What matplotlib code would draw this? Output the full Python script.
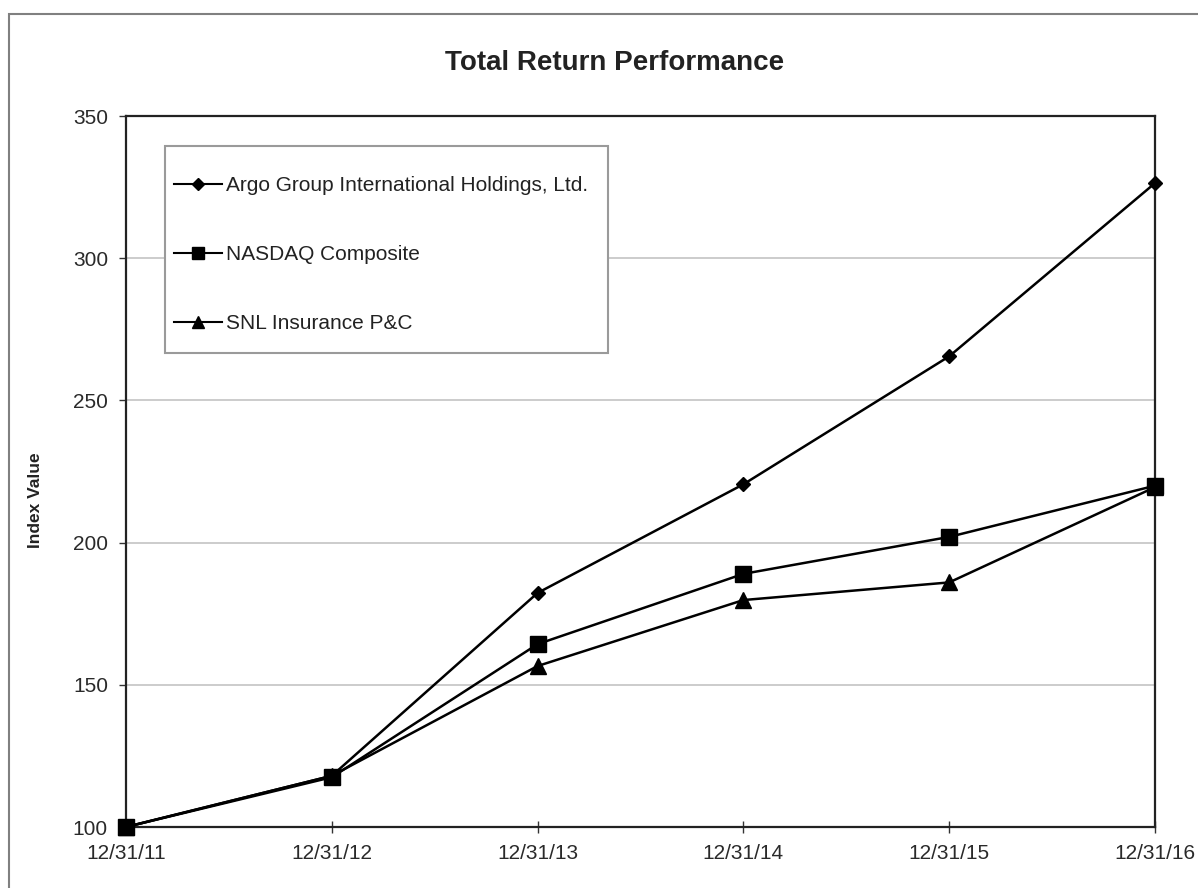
import matplotlib
matplotlib.use("Agg")
import matplotlib.pyplot as plt
from matplotlib.patches import Rectangle

plt.rcParams['font.family'] = ['Liberation Sans', 'DejaVu Sans']

dates = ["12/31/11", "12/31/12", "12/31/13", "12/31/14", "12/31/15", "12/31/16"]
argo = [100, 118, 182.3, 220.5, 265.5, 326.4]
nasdaq = [100, 117.5, 164.3, 189, 202, 220]
snl = [100, 118, 156.6, 179.8, 186, 219.5]
series_names = ["Argo Group International Holdings, Ltd.", "NASDAQ Composite", "SNL Insurance P&C"]
yticks = [100, 150, 200, 250, 300, 350]

W, H = 1198, 888
AX_L, AX_R, AX_T, AX_B = 126, 1155, 116, 827
fig = plt.figure(figsize=(W / 100, H / 100), dpi=100)
fig.patches.append(Rectangle((9 / W, -0.1), 1.2, (H - 14) / H + 0.1, transform=fig.transFigure,
                             fill=False, edgecolor='#808080', linewidth=1.5))

ax = fig.add_axes([AX_L / W, 1 - AX_B / H, (AX_R - AX_L) / W, (AX_B - AX_T) / H])
x = list(range(len(dates)))

ax.plot(x, argo, color='black', lw=1.8, marker='D', ms=7.5, clip_on=False, zorder=5, label=series_names[0])
ax.plot(x, nasdaq, color='black', lw=1.8, marker='s', ms=12, clip_on=False, zorder=5, label=series_names[1])
ax.plot(x, snl, color='black', lw=1.8, marker='^', ms=11, clip_on=False, zorder=5, label=series_names[2])

ax.set_xlim(0, len(dates) - 1)
ax.set_ylim(100, 350)
ax.set_xticks(x)
ax.set_xticklabels(dates, fontsize=15, color='#2a2a2a')
ax.set_yticks(yticks)
ax.set_yticklabels([str(v) for v in yticks], fontsize=15, color='#2a2a2a')
ax.tick_params(axis='x', direction='inout', length=8, width=1, pad=8, color='#333333')
ax.tick_params(axis='y', direction='out', length=5, width=1, pad=8, color='#333333')
for s in ax.spines.values():
    s.set_linewidth(1.6)
    s.set_color('#222222')
ax.yaxis.grid(True, color='#c4c4c4', lw=1.2)
ax.set_axisbelow(True)

fig.text(36 / W, 1 - 500 / H, "Index Value", rotation=90, ha='center', va='center',
         fontsize=12.5, fontweight='bold', color='#222222')
fig.text(615 / W, 1 - 63 / H, "Total Return Performance", ha='center', va='center',
         fontsize=20, fontweight='bold', color='#222222')

# legend box
def ax_frac(px, py):
    return ((px - AX_L) / (AX_R - AX_L), (AX_B - py) / (AX_B - AX_T))

bx0, by0 = ax_frac(165, 353)
bx1, by1 = ax_frac(608, 146)
ax.add_patch(Rectangle((bx0, by0), bx1 - bx0, by1 - by0, transform=ax.transAxes,
                       fill=True, facecolor='white', edgecolor='#9a9a9a', linewidth=1.5, zorder=6))
leg = ax.legend(loc='upper left', bbox_to_anchor=ax_frac(174, 176),
                fontsize=15, frameon=False,
                labelspacing=2.4, handlelength=2.3, handletextpad=0.2, borderpad=0,
                borderaxespad=0, markerscale=0.75)
leg.set_zorder(7)
for h in leg.get_lines():
    h.set_linewidth(1.5)
for t in leg.get_texts():
    t.set_color('#222222')

fig.savefig("out.png", dpi=100)
